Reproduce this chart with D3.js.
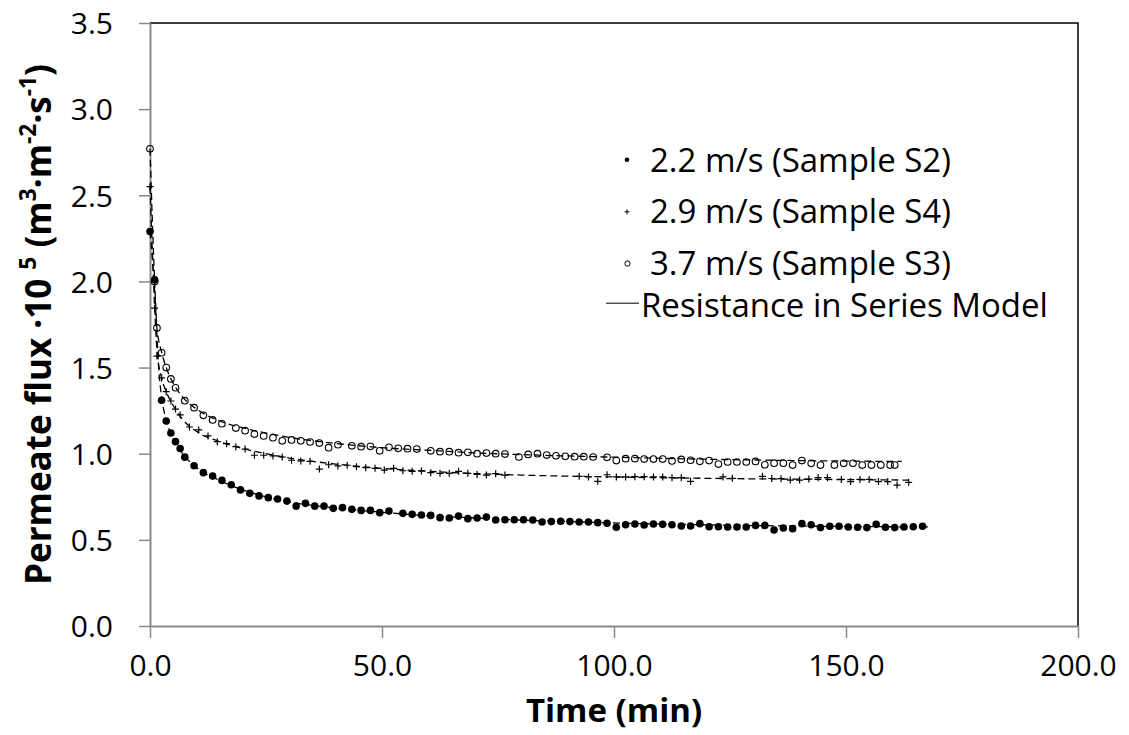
<!DOCTYPE html>
<html>
<head>
<meta charset="utf-8">
<script src="https://cdn.jsdelivr.net/npm/d3@7"></script>
<style>
    body { margin: 0; background: #fff; }
    svg text { font-family: "Open Sans", sans-serif; fill: #000; }
</style>
</head>
<body>
<svg id="chart"></svg>
<script>
// [time (min), flux * 10^5]
const s2Data = [[0,2.29],[1,2.01],[2.5,1.31],[3.5,1.19],[4.5,1.12],[5.5,1.07],[6.5,1.03],[7.5,0.98],
    [9.5,0.93],[11.5,0.89],[13.5,0.87],[15.5,0.845],[17.5,0.82],[19.5,0.79],[21.5,0.77],[23.5,0.755],
    [25.5,0.745],[27.5,0.737],[29.5,0.725],[31.5,0.696],[33.5,0.712],[35.5,0.696],[37.5,0.696],[39.5,0.683],
    [41.5,0.687],[43.5,0.677],[45.5,0.671],[47.5,0.671],[49.5,0.658],[51.5,0.667],[54.5,0.654],[56.5,0.648],
    [58.5,0.644],[60.5,0.642],[62.5,0.629],[64.5,0.627],[66.5,0.638],[68.5,0.623],[70.5,0.627],[72.5,0.632],
    [74.5,0.615],[76.5,0.617],[78.5,0.617],[80.5,0.617],[82.5,0.615],[84.5,0.604],[86.5,0.606],[88.5,0.608],
    [90.5,0.606],[92.5,0.604],[94.5,0.604],[96.5,0.600],[98.5,0.596],[100.5,0.573],[102.5,0.588],[104.5,0.592],
    [106.5,0.586],[108.5,0.592],[110.5,0.590],[112.5,0.588],[114.5,0.580],[116.5,0.580],[118.5,0.594],[120.5,0.576],
    [122.5,0.576],[124.5,0.575],[126.5,0.575],[128.5,0.575],[130.5,0.584],[132.5,0.584],[134.5,0.557],[136.5,0.569],
    [138.5,0.565],[140.5,0.594],[142.5,0.588],[144.5,0.571],[146.5,0.579],[148.5,0.579],[150.5,0.575],[152.5,0.573],
    [154.5,0.571],[156.5,0.590],[158.5,0.573],[160.5,0.571],[162.5,0.575],[164.5,0.576],[166.5,0.579]];

const s4Data = [[0,2.55],[1,1.845],[1.5,1.567],[2.5,1.44],[3.5,1.36],[4.5,1.306],[5.5,1.259],[6.5,1.225],
    [8.5,1.155],[10.5,1.138],[12.5,1.103],[14.5,1.07],[16.5,1.058],[18.5,1.041],[20.5,1.027],[22.5,0.991],
    [24.5,0.991],[26.5,0.987],[28.5,0.981],[30.5,0.962],[32.5,0.958],[34.5,0.956],[36.5,0.911],[38.5,0.936],
    [40.5,0.929],[42.5,0.933],[44.5,0.925],[46.5,0.919],[48.5,0.915],[50.5,0.905],[52.5,0.915],[54.5,0.901],
    [56.5,0.898],[58.5,0.9],[60.5,0.89],[62.5,0.886],[64.5,0.886],[66.5,0.898],[68.5,0.886],[70.5,0.88],
    [72.5,0.876],[74.5,0.884],[76.5,0.876],[92.5,0.869],[94.5,0.865],[96.5,0.84],[98.5,0.878],[100.5,0.865],
    [102.5,0.865],[104.5,0.867],[106.5,0.867],[108.5,0.865],[110.5,0.865],[112.5,0.861],[114.5,0.861],[116.5,0.84],
    [123.5,0.865],[125.5,0.857],[132,0.869],[134,0.856],[136,0.855],[138,0.847],[140,0.847],[142,0.853],
    [144,0.861],[146,0.861],[149,0.851],[151,0.838],[153,0.851],[155,0.851],[157,0.838],[159,0.838],
    [161,0.818],[163.5,0.834]];

const s3Data = [[0,2.77],[1,2.0],[1.5,1.73],[2.5,1.586],[3.5,1.50],[4.5,1.434],[5.5,1.383],[7.5,1.308],
    [9.5,1.267],[11.5,1.223],[13.5,1.196],[15.5,1.174],[18.5,1.149],[20.5,1.134],[22.5,1.114],[24.5,1.103],
    [26.5,1.093],[28.5,1.075],[30.5,1.08],[32.5,1.075],[34.5,1.068],[36.5,1.062],[38.5,1.035],[40.5,1.052],
    [43.5,1.046],[45.5,1.041],[47.5,1.043],[49.5,1.017],[51.5,1.037],[53.5,1.031],[55.5,1.029],[57.5,1.027],
    [60.5,1.017],[62.5,1.012],[64.5,1.012],[66.5,1.006],[68.5,1.008],[70.5,1.0],[72.5,1.004],[74.5,1.0],
    [76.5,0.998],[79.5,0.981],[81.5,0.996],[83.5,1.0],[85.5,0.992],[87.5,0.988],[89.5,0.985],[91.5,0.983],
    [93.5,0.983],[95.5,0.981],[98.5,0.979],[100.5,0.96],[102.5,0.971],[104.5,0.971],[106.5,0.969],[108.5,0.969],
    [110.5,0.969],[112.5,0.958],[114.5,0.967],[116.5,0.962],[118.5,0.956],[120.5,0.96],[122.5,0.94],[124.5,0.952],
    [126.5,0.952],[128.5,0.952],[130.5,0.955],[132.5,0.936],[134.5,0.945],[136.5,0.945],[138.5,0.934],[140.5,0.96],
    [142.5,0.944],[144.5,0.934],[147.5,0.934],[149.5,0.944],[151.5,0.944],[153.5,0.934],[155.5,0.934],[157.5,0.934],
    [159.5,0.934],[160.5,0.934]];

// resistance in series model curves
const s2Model = [[0,2.29],[1,1.95],[2,1.45],[2.5,1.33],[3,1.25],[4,1.15],[5,1.09],[6,1.04],[8,0.97],[10,0.92],
    [15,0.845],[20,0.79],[25,0.75],[30,0.72],[40,0.685],[50,0.66],[60,0.64],[70,0.627],[80,0.615],[90,0.606],
    [100,0.598],[120,0.587],[140,0.58],[168,0.575]];
const s4Model = [[0,2.55],[1,1.85],[1.5,1.6],[2.5,1.44],[3.5,1.36],[5,1.28],[7,1.2],[10,1.13],[15,1.07],[20,1.03],
    [25,1.0],[30,0.975],[40,0.94],[50,0.915],[60,0.898],[70,0.885],[80,0.876],[100,0.865],[120,0.857],[140,0.852],
    [163.5,0.847]];
const s3Model = [[0,2.77],[1,2.0],[1.5,1.73],[2.5,1.59],[3.5,1.5],[5,1.41],[7,1.33],[10,1.26],[15,1.19],[20,1.15],
    [25,1.12],[30,1.095],[40,1.06],[50,1.035],[60,1.02],[70,1.005],[80,0.995],[100,0.98],[120,0.968],[140,0.96],
    [162,0.955]];

const xTicks = [0, 50, 100, 150, 200];
const yTicks = [0, 0.5, 1, 1.5, 2, 2.5, 3, 3.5];
const legendLabels = ["2.2 m/s (Sample S2)", "2.9 m/s (Sample S4)", "3.7 m/s (Sample S3)", "Resistance in Series Model"];

const width = 1129, height = 735;
const margin = { top: 23, right: 51, bottom: 109, left: 150 };
const axisGrey = "#898989";

const svg = d3.select("#chart")
    .attr("width", width)
    .attr("height", height);

const x = d3.scaleLinear().domain([0, 200]).range([margin.left, width - margin.right]);
const y = d3.scaleLinear().domain([0, 3.5]).range([height - margin.bottom, margin.top]);

// plot frame: black top/right edges
svg.append("path")
    .attr("d", `M${x(0)},${y(3.5)}H${x(200)}V${y(0)}`)
    .attr("fill", "none")
    .attr("stroke", "#000")
    .attr("stroke-width", 1.5);

const xAxisG = svg.append("g")
    .attr("transform", `translate(0,${y(0)})`)
    .call(d3.axisBottom(x).tickValues(xTicks).tickFormat(d3.format(".1f")).tickSizeInner(12).tickSizeOuter(0));

const yAxisG = svg.append("g")
    .attr("transform", `translate(${x(0)},0)`)
    .call(d3.axisLeft(y).tickValues(yTicks).tickFormat(d3.format(".1f")).tickSizeInner(11).tickSizeOuter(0));

[xAxisG, yAxisG].forEach((g) => {
    g.select(".domain").attr("stroke", axisGrey).attr("stroke-width", 2);
    g.selectAll(".tick line").attr("stroke", axisGrey).attr("stroke-width", 1.5);
    g.selectAll(".tick text").attr("font-size", 30).attr("font-family", "Open Sans");
});
xAxisG.selectAll(".tick text").attr("y", 50).attr("dy", 0);
yAxisG.selectAll(".tick text").attr("x", -37).attr("dy", "0.36em");

// axis titles
svg.append("text")
    .attr("x", (x(0) + x(200)) / 2)
    .attr("y", 722)
    .attr("text-anchor", "middle")
    .attr("font-size", 33)
    .attr("font-weight", "bold")
    .text("Time (min)");

const yTitle = svg.append("text")
    .attr("transform", `translate(51,${(y(0) + y(3.5)) / 2}) rotate(-90)`)
    .attr("text-anchor", "middle")
    .attr("font-size", 35)
    .attr("font-weight", "bold");
yTitle.append("tspan").text("Permeate flux ·10 ");
yTitle.append("tspan").attr("baseline-shift", "super").attr("font-size", "65%").text("5");
yTitle.append("tspan").text(" (m");
yTitle.append("tspan").attr("baseline-shift", "super").attr("font-size", "65%").text("3");
yTitle.append("tspan").text("·m");
yTitle.append("tspan").attr("baseline-shift", "super").attr("font-size", "65%").text("-2");
yTitle.append("tspan").text("·s");
yTitle.append("tspan").attr("baseline-shift", "super").attr("font-size", "65%").text("-1");
yTitle.append("tspan").text(")");

// model curves (dashed)
const line = d3.line()
    .x((d) => x(d[0]))
    .y((d) => y(d[1]))
    .curve(d3.curveMonotoneX);

svg.append("g").selectAll("path")
    .data([s2Model, s4Model, s3Model])
    .join("path")
    .attr("d", line)
    .attr("fill", "none")
    .attr("stroke", "#000")
    .attr("stroke-width", 1.3)
    .attr("stroke-dasharray", "7,4");

// markers
const plusPath = (s) => `M${-s},0H${s}M0,${-s}V${s}`;

svg.append("g").selectAll("circle")
    .data(s2Data)
    .join("circle")
    .attr("cx", (d) => x(d[0]))
    .attr("cy", (d) => y(d[1]))
    .attr("r", 3.8)
    .attr("fill", "#000");

svg.append("g").selectAll("path")
    .data(s4Data)
    .join("path")
    .attr("transform", (d) => `translate(${x(d[0])},${y(d[1])})`)
    .attr("d", plusPath(3.5))
    .attr("stroke", "#000")
    .attr("stroke-width", 1.2);

svg.append("g").selectAll("circle")
    .data(s3Data)
    .join("circle")
    .attr("cx", (d) => x(d[0]))
    .attr("cy", (d) => y(d[1]))
    .attr("r", 3.3)
    .attr("fill", "none")
    .attr("stroke", "#000")
    .attr("stroke-width", 1.1);

// legend
const legend = svg.append("g");
const rowBase = [171.7, 223.3, 275, 316.7];

legend.append("circle").attr("cx", 627).attr("cy", rowBase[0] - 12).attr("r", 2.3).attr("fill", "#000");
legend.append("path")
    .attr("transform", `translate(627,${rowBase[1] - 11.5})`)
    .attr("d", plusPath(2.5))
    .attr("stroke", "#000")
    .attr("stroke-width", 1);
legend.append("circle").attr("cx", 627.5).attr("cy", rowBase[2] - 11.5).attr("r", 2.6)
    .attr("fill", "#fff").attr("stroke", "#000").attr("stroke-width", 1);
legend.append("line")
    .attr("x1", 606).attr("x2", 639)
    .attr("y1", rowBase[3] - 13.5).attr("y2", rowBase[3] - 13.5)
    .attr("stroke", "#000").attr("stroke-width", 1);

legend.selectAll("text")
    .data(legendLabels)
    .join("text")
    .attr("x", (d, i) => i === 3 ? 641 : 650)
    .attr("y", (d, i) => rowBase[i])
    .attr("font-size", 33)
    .text((d) => d);
</script>
</body>
</html>
